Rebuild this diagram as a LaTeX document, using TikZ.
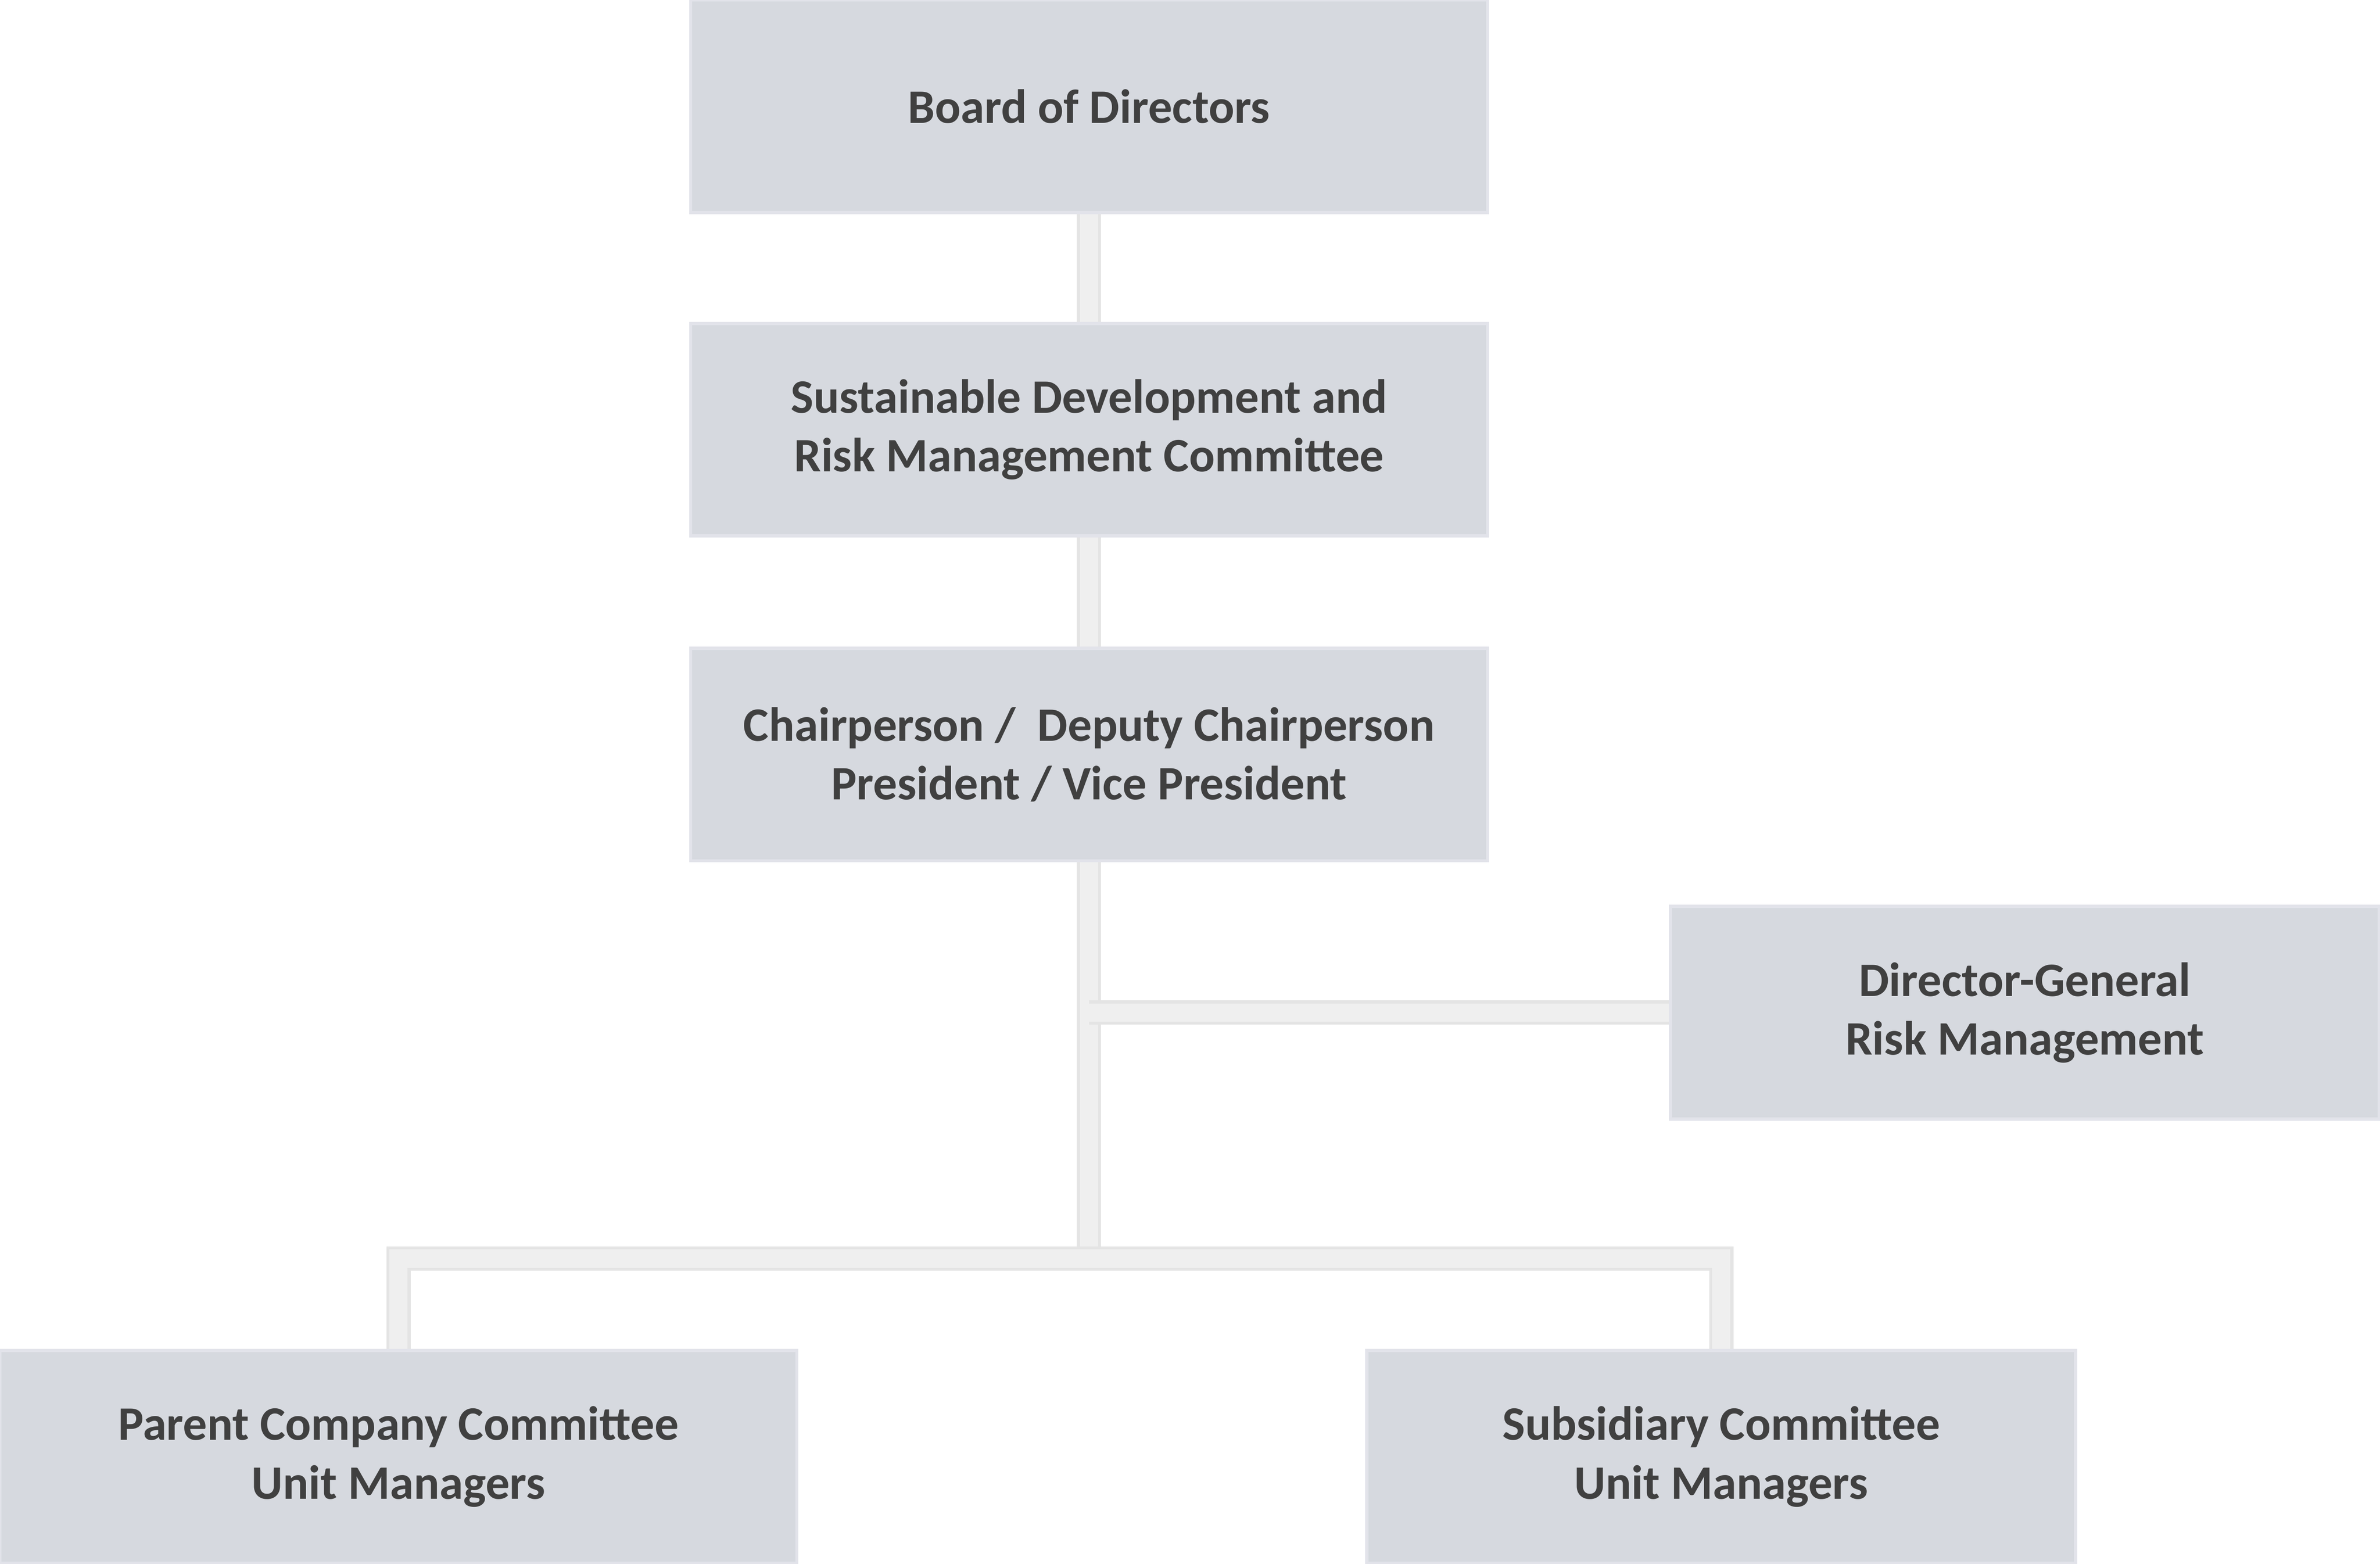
\documentclass[tikz,border=0pt]{standalone}
\usepackage{fontspec}
\setmainfont{Carlito}
\definecolor{boxfill}{HTML}{D6D9DF}
\definecolor{boxline}{HTML}{E2E3EA}
\definecolor{txt}{HTML}{404040}
\definecolor{wire}{HTML}{EFEFEF}
\definecolor{wireline}{HTML}{E4E4E4}
\begin{document}
\begin{tikzpicture}[
    unit/.style={rectangle, draw=boxline, line width=0.6pt, fill=boxfill, text=txt, font=\fontsize{9}{11}\selectfont\bfseries, align=center, minimum height=1.4cm},
    wide/.style={unit, minimum width=5.25cm},
    narrow/.style={unit, minimum width=4.67cm},
    link/.style={draw=wireline, line width=0.02cm, double=wire, double distance=0.12cm}
]
    \useasboundingbox (0,0) rectangle (15.68,10.30);
    % Chain of command
    \node [wide] (board) at (7.175,9.60) {Board of Directors};
    \node [wide] (sdrm) at (7.175,7.47) {Sustainable Development and\\Risk Management Committee};
    \node [wide] (chair) at (7.175,5.33) {Chairperson /\ \ Deputy Chairperson\\President / Vice President};
    \node [narrow] (dgrm) at (13.34,3.63) {Director-General\\Risk Management};
    % Committees
    \node [wide] (parent) at (2.625,0.705) {Parent Company Committee\\Unit Managers};
    \node [narrow] (subs) at (11.34,0.705) {Subsidiary Committee\\Unit Managers};
    \coordinate (bus) at (7.175,2.01);
    % Connections
    \draw [link] (board) -- (sdrm);
    \draw [link] (sdrm) -- (chair);
    \draw [link] (chair) -- (bus);
    \draw [link] (chair |- dgrm) -- (dgrm);
    \draw [link] (parent) |- (bus) -| (subs);
\end{tikzpicture}
\end{document}
